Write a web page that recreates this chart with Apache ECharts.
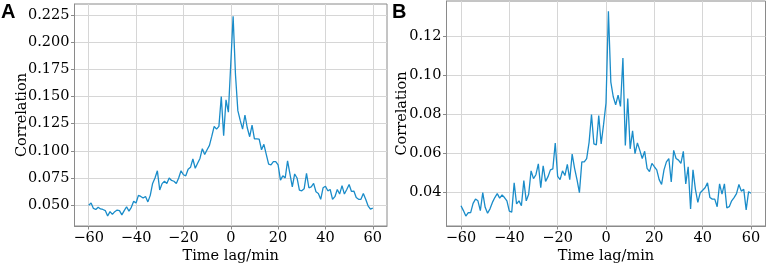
<!DOCTYPE html>
<html>
<head>
<meta charset="utf-8">
<script src="https://cdn.jsdelivr.net/npm/echarts@6/dist/echarts.min.js"></script>
<style>
  html, body { margin: 0; padding: 0; background: #fff; }
  #chart { width: 768px; height: 269px; }
</style>
</head>
<body>
<div id="chart"></div>
<script>
// correlation vs time lag, one value per minute from -60 to 60
const corrA = [
  0.050, 0.052, 0.047, 0.046, 0.048, 0.0465, 0.046, 0.045, 0.040, 0.044,
  0.0415, 0.044, 0.0455, 0.045, 0.041, 0.045, 0.0485, 0.0445, 0.048, 0.0535,
  0.052, 0.059, 0.058, 0.0565, 0.058, 0.053, 0.059, 0.070, 0.075, 0.0817,
  0.064, 0.0698, 0.072, 0.070, 0.075, 0.0727, 0.072, 0.070, 0.075, 0.0817,
  0.078, 0.077, 0.083, 0.0848, 0.0925, 0.084, 0.0886, 0.093, 0.102, 0.0967,
  0.101, 0.105, 0.1135, 0.1225, 0.120, 0.1225, 0.150, 0.114, 0.147, 0.1356,
  0.180,
  0.224, 0.170, 0.137, 0.128, 0.120, 0.133, 0.121, 0.113, 0.1237, 0.111,
  0.111, 0.1108, 0.101, 0.106, 0.0967, 0.0877, 0.0871, 0.090, 0.090, 0.087,
  0.073, 0.077, 0.075, 0.0907, 0.0787, 0.0668, 0.0787, 0.075, 0.0638, 0.0632,
  0.065, 0.0793, 0.066, 0.0668, 0.070, 0.0623, 0.0608, 0.0554, 0.066, 0.0674,
  0.0632, 0.0644, 0.0554, 0.0578, 0.0644, 0.0602, 0.068, 0.0602, 0.0644, 0.069,
  0.0626, 0.063, 0.057, 0.0554, 0.0554, 0.0608, 0.0554, 0.0494, 0.0464, 0.0473
]
const corrB = [
  0.0333, 0.0308, 0.028, 0.0297, 0.0298, 0.0345, 0.0367, 0.0358, 0.0308, 0.040,
  0.0325, 0.0295, 0.0317, 0.035, 0.0375, 0.0395, 0.0372, 0.0388, 0.0375, 0.0358,
  0.0305, 0.030, 0.045, 0.0342, 0.0358, 0.0333, 0.0462, 0.0358, 0.0392, 0.0512,
  0.0472, 0.0492, 0.0548, 0.0425, 0.0538, 0.0458, 0.0482, 0.0517, 0.0522, 0.0655,
  0.0483, 0.0467, 0.0512, 0.0488, 0.0545, 0.0467, 0.0598, 0.0525, 0.0467, 0.040,
  0.0558, 0.0558, 0.0575, 0.0658, 0.080, 0.065, 0.0645, 0.0795, 0.065, 0.075,
  0.086,
  0.133, 0.0967, 0.0892, 0.085, 0.090, 0.0842, 0.109, 0.0642, 0.0883, 0.0625,
  0.0717, 0.060, 0.0655, 0.0617, 0.0575, 0.0612, 0.0525, 0.0508, 0.055, 0.0533,
  0.0517, 0.0467, 0.0442, 0.0517, 0.0558, 0.0575, 0.0455, 0.0617, 0.0575, 0.0567,
  0.055, 0.0612, 0.0445, 0.0533, 0.0317, 0.0517, 0.0417, 0.035, 0.040, 0.0412,
  0.0425, 0.045, 0.0375, 0.0367, 0.0367, 0.0328, 0.0445, 0.0392, 0.0445, 0.0322,
  0.0328, 0.0358, 0.0375, 0.0395, 0.0442, 0.0408, 0.0417, 0.0312, 0.0405, 0.0397
]

const xTicks = [-60, -40, -20, 0, 20, 40, 60]
const yTicksA = [0.050, 0.075, 0.100, 0.125, 0.150, 0.175, 0.200, 0.225]
const yTicksB = [0.04, 0.06, 0.08, 0.10, 0.12]

const lag = []
for (let t = -60; t <= 60; t++) lag.push(t)

const lineColor = '#1a8cc9'
const spineColor = '#8a8a8a'
const gridColor = '#d6d6d6'
const serif = 'DejaVu Serif'
const fontSize = 14.5

const minus = v => String(v).replace('-', '\u2212')

function xAxis(gridIndex) {
  return {
    type: 'value', gridIndex, min: -66, max: 66,
    name: 'Time lag/min', nameLocation: 'middle', nameGap: 23, nameMoveOverlap: false,
    nameTextStyle: { fontFamily: serif, fontSize, color: '#000' },
    axisLine: { show: true, onZero: false, lineStyle: { color: spineColor } },
    axisTick: { show: true, length: 3.5, customValues: xTicks, lineStyle: { color: spineColor } },
    axisLabel: { customValues: xTicks, margin: 5, fontFamily: serif, fontSize, color: '#000', formatter: minus },
    splitLine: { show: true, lineStyle: { color: gridColor, width: 1 } },
  }
}

function yAxis(gridIndex, min, max, ticks, digits, gap) {
  return {
    type: 'value', gridIndex, min, max,
    name: 'Correlation', nameLocation: 'middle', nameGap: gap, nameMoveOverlap: false,
    nameTextStyle: { fontFamily: serif, fontSize, color: '#000' },
    axisLine: { show: true, onZero: false, lineStyle: { color: spineColor } },
    axisTick: { show: true, length: 3.5, customValues: ticks, lineStyle: { color: spineColor } },
    axisLabel: { customValues: ticks, margin: 5, fontFamily: serif, fontSize, color: '#000',
      formatter: v => v.toFixed(digits) },
    splitLine: { show: true, lineStyle: { color: gridColor, width: 1 } },
  }
}

function series(idx, values) {
  return {
    type: 'line', xAxisIndex: idx, yAxisIndex: idx,
    data: lag.map((t, i) => [t, values[i]]),
    showSymbol: false, symbol: 'none',
    lineStyle: { color: lineColor, width: 1.3 },
  }
}

const letterStyle = { fontFamily: 'Liberation Sans', fontWeight: 'bold', fontSize: 20, color: '#000' }

const chart = echarts.init(document.getElementById('chart'), null, { renderer: 'canvas' })
chart.setOption({
  animation: false,
  backgroundColor: '#fff',
  title: [
    { text: 'A', left: 0, top: 0, textStyle: letterStyle, padding: [2, 1] },
    { text: 'B', left: 391, top: 0, textStyle: letterStyle, padding: [2, 1] },
  ],
  grid: [
    { left: 74.5, top: 4, width: 312.5, height: 226, show: true, borderColor: spineColor, borderWidth: 1, backgroundColor: 'transparent' },
    { left: 446.5, top: 1, width: 319, height: 231.7, show: true, borderColor: spineColor, borderWidth: 1, backgroundColor: 'transparent' },
  ],
  xAxis: [xAxis(0), xAxis(1)],
  yAxis: [
    yAxis(0, 0.0308, 0.2352, yTicksA, 3, 45),
    yAxis(1, 0.0229, 0.1383, yTicksB, 2, 37),
  ],
  series: [series(0, corrA), series(1, corrB)],
})
</script>
</body>
</html>
